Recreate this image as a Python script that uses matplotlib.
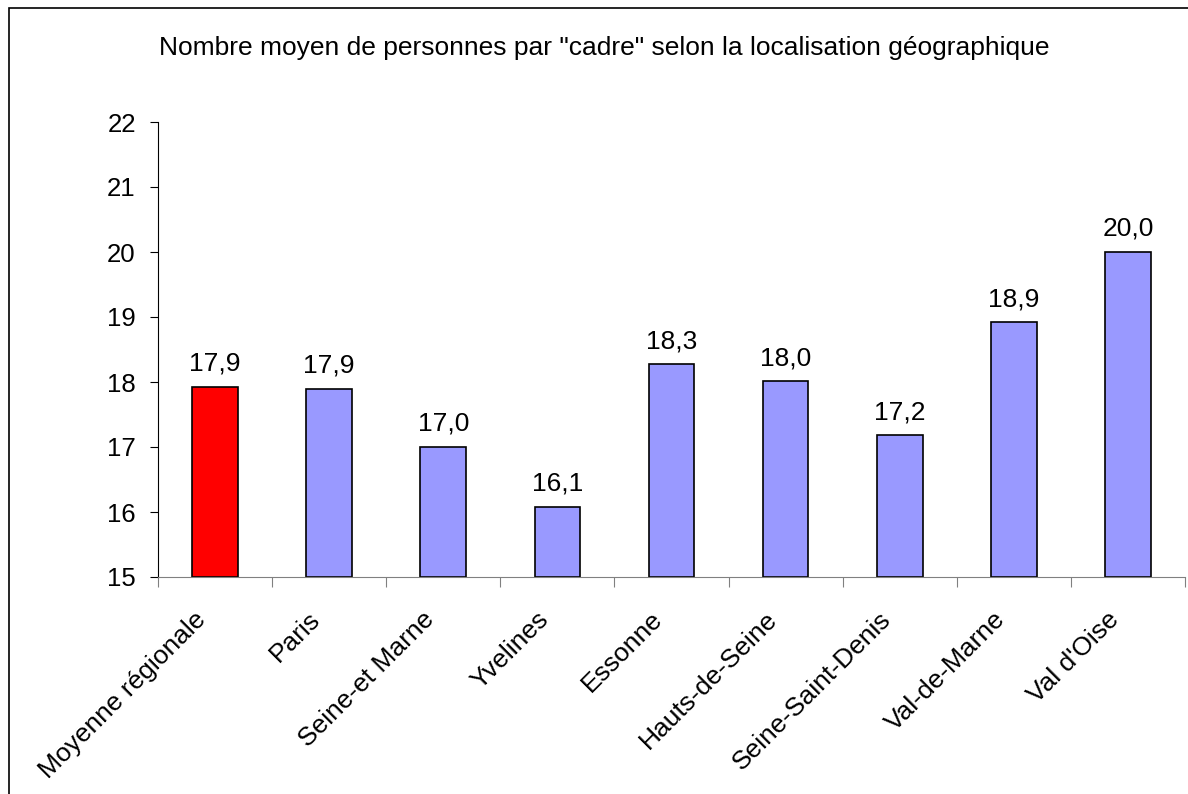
import matplotlib
matplotlib.use("Agg")
import matplotlib.pyplot as plt
from matplotlib.patches import Rectangle
from matplotlib.transforms import ScaledTranslation

categories = ["Moyenne régionale", "Paris", "Seine-et Marne", "Yvelines", "Essonne",
              "Hauts-de-Seine", "Seine-Saint-Denis", "Val-de-Marne", "Val d'Oise"]
values = [17.93, 17.9, 17.0, 16.08, 18.27, 18.01, 17.18, 18.92, 20.0]
labels = ["17,9", "17,9", "17,0", "16,1", "18,3", "18,0", "17,2", "18,9", "20,0"]
colors = ["#FF0000"] + ["#9999FF"] * 8
title = 'Nombre moyen de personnes par "cadre" selon la localisation géographique'

plt.rcParams['font.family'] = ['Liberation Sans', 'DejaVu Sans']

fig = plt.figure(figsize=(11.88, 7.94), dpi=100)
W, H = 1188, 794
ax = fig.add_axes([158 / W, 1 - 577 / H, (1185 - 158) / W, (577 - 122) / H])

x = list(range(len(categories)))
ax.bar(x, [v - 15 for v in values], bottom=15, width=0.4, color=colors,
       edgecolor="black", linewidth=1.2)
for xi, v, lab in zip(x, values, labels):
    ax.annotate(lab, (xi, v), xytext=(0, 8), textcoords="offset points",
                ha="center", va="bottom", fontsize=19)

ax.set_xlim(-0.5, len(categories) - 0.5)
ax.set_ylim(15, 22)
ax.set_yticks(range(15, 23))
ax.tick_params(axis='y', labelsize=18.5, length=6, direction='out', pad=10)
ax.set_xticks([i - 0.5 for i in range(len(categories) + 1)])
ax.set_xticklabels([])
ax.set_xticks(x, minor=True)
ax.set_xticklabels(categories, minor=True, rotation=45, ha='right',
                   rotation_mode='anchor', fontsize=19)
ax.tick_params(axis='x', which='major', length=7, direction='out', color='#808080')
ax.tick_params(axis='x', which='minor', length=0, pad=16)
off = ScaledTranslation(-21 / 100, -8 / 100, fig.dpi_scale_trans)
for t in ax.get_xticklabels(minor=True):
    t.set_transform(t.get_transform() + off)
ax.spines['top'].set_visible(False)
ax.spines['right'].set_visible(False)
ax.spines['bottom'].set_color('#808080')

fig.text(604 / W, 1 - 48 / H, title, ha='center', va='center', fontsize=19)
fig.patches.append(Rectangle((9 / W, -0.05), 1.1, 1 - 8 / H + 0.05, transform=fig.transFigure,
                             fill=False, edgecolor='black', linewidth=1.2, clip_on=False))

fig.savefig("out.png", dpi=100)
